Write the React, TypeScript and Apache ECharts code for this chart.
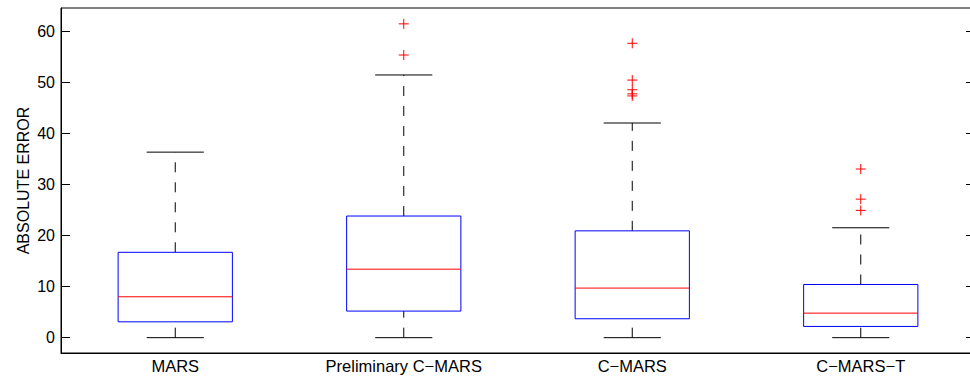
import React, { useEffect, useRef } from "react";
import * as echarts from "echarts";

const categories = ["MARS", "Preliminary C\u2212MARS", "C\u2212MARS", "C\u2212MARS\u2212T"];
const lowerWhisker = [0, 0, 0, 0];
const lowerQuartile = [3.1, 5.2, 3.7, 2.2];
const medians = [8.0, 13.4, 9.7, 4.8];
const upperQuartile = [16.7, 23.8, 20.9, 10.4];
const upperWhisker = [36.3, 51.4, 42.0, 21.5];
const outliers: [number, number][] = [
  [1, 61.4],
  [1, 55.3],
  [2, 57.6],
  [2, 50.4],
  [2, 48.5],
  [2, 47.7],
  [2, 47.3],
  [3, 33.0],
  [3, 27.1],
  [3, 24.9],
];
const yTicks = [0, 10, 20, 30, 40, 50, 60];

const FONT = "'Liberation Sans', Arial, sans-serif";

export default function App() {
  const ref = useRef<HTMLDivElement>(null);
  useEffect(() => {
    if (!ref.current) return;
    const chart = echarts.init(ref.current, null, { renderer: "svg" });
    const boxData = categories.map((_, i) => [
      i,
      lowerWhisker[i],
      lowerQuartile[i],
      medians[i],
      upperQuartile[i],
      upperWhisker[i],
    ]);
    const option: any = {
      animation: false,
      backgroundColor: "#fff",
      grid: {
        left: 61,
        top: 8,
        width: 914,
        height: 345,
        outerBoundsMode: "none",
        containLabel: false,
        show: true,
        borderColor: "#000",
        borderWidth: 1,
        backgroundColor: "transparent",
      },
      xAxis: {
        type: "category",
        data: categories,
        boundaryGap: true,
        axisLine: { show: true, onZero: false, lineStyle: { color: "#000", width: 1 } },
        axisTick: { show: false },
        axisLabel: { color: "#000", fontSize: 16.5, fontFamily: FONT, margin: 4 },
        splitLine: { show: false },
      },
      yAxis: [
        {
          type: "value",
          min: -3,
          max: 64.5,
          name: "ABSOLUTE ERROR",
          nameLocation: "middle",
          nameRotate: 90,
          nameGap: 30,
          nameMoveOverlap: false,
          nameTextStyle: { color: "#000", fontSize: 16, fontFamily: FONT },
          axisLine: { show: true, onZero: false, lineStyle: { color: "#000" } },
          axisTick: { show: true, inside: true, length: 9, customValues: yTicks, lineStyle: { color: "#000" } },
          axisLabel: { color: "#000", fontSize: 16, fontFamily: FONT, margin: 6, customValues: yTicks },
          splitLine: { show: false },
        },
        {
          type: "value",
          position: "right",
          min: -3,
          max: 64.5,
          axisLine: { show: true, onZero: false, lineStyle: { color: "#000" } },
          axisTick: { show: true, inside: true, length: 9, customValues: yTicks, lineStyle: { color: "#000" } },
          axisLabel: { show: false, customValues: yTicks },
          splitLine: { show: false },
        },
      ],
      series: [
        {
          type: "custom",
          data: boxData,
          encode: { x: 0, y: [1, 2, 3, 4, 5] },
          renderItem: (params: any, api: any) => {
            const idx = api.value(0);
            const band = api.size([1, 0])[0];
            const boxW = band * 0.5;
            const capW = band * 0.25;
            const cx = api.coord([idx, 0])[0];
            const y = (v: number) => api.coord([idx, v])[1];
            const lo = y(api.value(1));
            const q1 = y(api.value(2));
            const md = y(api.value(3));
            const q3 = y(api.value(4));
            const hi = y(api.value(5));
            const blk = { stroke: "#000", lineWidth: 1 };
            return {
              type: "group",
              children: [
                { type: "line", shape: { x1: cx, y1: q3, x2: cx, y2: hi }, style: { ...blk, lineDash: [10, 10] } },
                { type: "line", shape: { x1: cx, y1: lo, x2: cx, y2: q1 }, style: { ...blk, lineDash: [10, 10] } },
                { type: "line", shape: { x1: cx - capW / 2, y1: hi, x2: cx + capW / 2, y2: hi }, style: blk },
                { type: "line", shape: { x1: cx - capW / 2, y1: lo, x2: cx + capW / 2, y2: lo }, style: blk },
                {
                  type: "rect",
                  shape: { x: cx - boxW / 2, y: q3, width: boxW, height: q1 - q3 },
                  style: { fill: "none", stroke: "#0000ff", lineWidth: 1 },
                },
                {
                  type: "line",
                  shape: { x1: cx - boxW / 2, y1: md, x2: cx + boxW / 2, y2: md },
                  style: { stroke: "#ff0000", lineWidth: 1 },
                },
              ],
            };
          },
        },
        {
          type: "custom",
          data: outliers,
          encode: { x: 0, y: 1 },
          renderItem: (params: any, api: any) => {
            const p = api.coord([api.value(0), api.value(1)]);
            const s = 5;
            const st = { stroke: "#ff0000", lineWidth: 1 };
            return {
              type: "group",
              children: [
                { type: "line", shape: { x1: p[0] - s, y1: p[1], x2: p[0] + s, y2: p[1] }, style: st },
                { type: "line", shape: { x1: p[0], y1: p[1] - s, x2: p[0], y2: p[1] + s }, style: st },
              ],
            };
          },
        },
      ],
    };
    chart.setOption(option);
    return () => chart.dispose();
  }, []);
  return (
    <div
      ref={ref}
      style={{ position: "fixed", left: 0, top: 0, width: 970, height: 379, background: "#fff" }}
    />
  );
}
